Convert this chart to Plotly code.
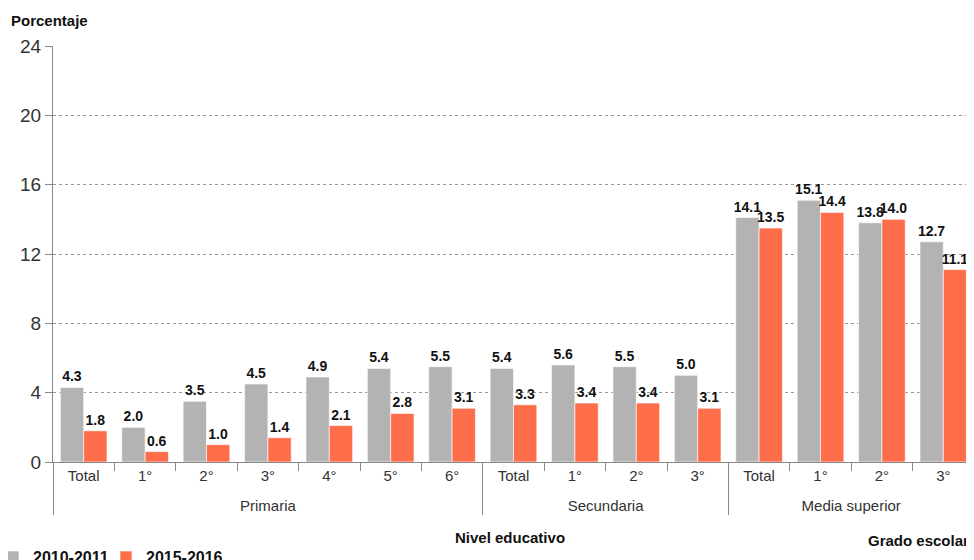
import plotly.graph_objects as go

niveles = ["Primaria"] * 7 + ["Secundaria"] * 4 + ["Media superior"] * 4
grados = ["Total", "1°", "2°", "3°", "4°", "5°", "6°",
          "Total", "1°", "2°", "3°",
          "Total", "1°", "2°", "3°"]
serie_2010 = [4.3, 2.0, 3.5, 4.5, 4.9, 5.4, 5.5, 5.4, 5.6, 5.5, 5.0, 14.1, 15.1, 13.8, 12.7]
serie_2015 = [1.8, 0.6, 1.0, 1.4, 2.1, 2.8, 3.1, 3.3, 3.4, 3.4, 3.1, 13.5, 14.4, 14.0, 11.1]
y_ticks = [0, 4, 8, 12, 16, 20, 24]

GRAY = "#b3b3b3"
ORANGE = "#ff6e4a"
FONT = "Liberation Sans, Arial, sans-serif"

# invisible padding (taller glyph box) so the group row sits lower, as in the reference
pad = "<span style='font-size:25px'>\u00a0</span>"
grados_txt = [f"{pad}{g}{pad}" for g in grados]

fig = go.Figure()
for name, vals, col in [("2010-2011", serie_2010, GRAY), ("2015-2016", serie_2015, ORANGE)]:
    fig.add_trace(go.Bar(
        x=[niveles, grados_txt], y=vals, name=name,
        marker=dict(color=col, line=dict(color="rgba(255,255,255,0.6)", width=1)),
        text=[f"{v:.1f}" for v in vals], textposition="outside",
        constraintext="none", cliponaxis=False,
        textfont=dict(family=FONT, size=14, color="#111111", weight="bold"),
    ))

# page body has an 8px default margin, so the figure is 8px smaller
fig.update_layout(
    width=966, height=552,
    margin=dict(l=45, r=0, t=38, b=98, autoexpand=False),
    paper_bgcolor="white", plot_bgcolor="white",
    barmode="group", bargap=0.24, bargroupgap=0.0,
    font=dict(family=FONT, size=15, color="#333333"),
    showlegend=True,
    legend=dict(orientation="h", xref="container", yref="container",
                x=0, xanchor="left", y=0.036, yanchor="top",
                indentation=-15, entrywidth=83, entrywidthmode="pixels",
                font=dict(family=FONT, size=16, color="#111111", weight="bold"),
                itemwidth=30, tracegroupgap=0),
    xaxis=dict(type="multicategory", showline=True, linecolor="#888888", linewidth=1,
               ticks="outside", ticklen=8, tickcolor="#888888",
               showdividers=True, dividercolor="#888888", dividerwidth=1,
               tickfont=dict(family=FONT, size=15, color="#333333"), showgrid=False),
    yaxis=dict(range=[0, 24], tickvals=y_ticks, showline=True, linecolor="#888888",
               linewidth=1, ticks="outside", ticklen=7, tickcolor="#888888",
               showgrid=True, gridcolor="#999999", griddash="3px,3px", gridwidth=1,
               zeroline=False, tickfont=dict(family=FONT, size=19, color="#333333")),
    annotations=[
        dict(text="<b>Porcentaje</b>", xref="paper", yref="paper", x=-0.048, y=1.0625,
             xanchor="left", yanchor="middle", showarrow=False,
             font=dict(family=FONT, size=15, color="#111111")),
        dict(text="<b>Nivel educativo</b>", xref="paper", yref="paper", x=0.496, y=-0.181,
             xanchor="center", yanchor="middle", showarrow=False,
             font=dict(family=FONT, size=15, color="#111111")),
        dict(text="<b>Grado escolar</b>", xref="paper", yref="paper", x=0.997, y=-0.188,
             xanchor="right", yanchor="middle", showarrow=False,
             font=dict(family=FONT, size=15, color="#111111")),
    ],
)

fig.write_html("out.html")
